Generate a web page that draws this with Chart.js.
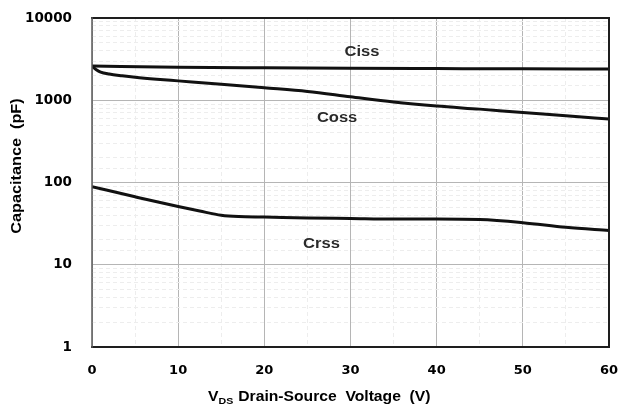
<!DOCTYPE html>
<html>
<head>
<meta charset="utf-8">
<style>
  html, body { margin: 0; padding: 0; background: #ffffff; }
  #wrap { width: 620px; height: 412px; position: relative; }
</style>
<script src="https://cdn.jsdelivr.net/npm/chart.js@4.4.1/dist/chart.umd.min.js"></script>
</head>
<body>
<div id="wrap"><canvas id="cap" width="620" height="412"></canvas></div>
<script>
// Drain-source voltage (V) sample points for each capacitance curve
const vCiss = [0, 10, 20, 30, 40, 50, 60];
const ciss  = [2600, 2520, 2480, 2450, 2430, 2410, 2400];

const vCoss = [0, 0.5, 1, 2, 3.5, 5, 7.5, 10, 15, 20, 25, 30, 35, 40, 45, 50, 55, 60];
const coss  = [2600, 2350, 2200, 2080, 1980, 1900, 1800, 1720, 1570, 1420, 1280, 1100, 950, 850, 780, 710, 650, 590];

const vCrss = [0, 5, 10, 12.5, 15, 17, 20, 25, 30, 35, 40, 45, 50, 55, 60];
const crss  = [89, 67, 51, 45, 40, 38.5, 38, 37, 36.5, 36, 36, 35.5, 32.5, 28.5, 26];

// Axis ticks
const xTicks = [0, 10, 20, 30, 40, 50, 60];
const yTicks = [1, 10, 100, 1000, 10000];

// Curve names and where they are written (x in V, y in pF)
const curveNames = ['Ciss', 'Coss', 'Crss'];
const namePos = [[29.3, 3860], [26.1, 608], [24.5, 17.9]];

const toPts = (xs, ys) => xs.map((x, i) => ({ x: x, y: ys[i] }));

const TICK_FONT = 'DejaVu Sans';
const TEXT_FONT = 'Liberation Sans, Arial, sans-serif';

function stretchedText(ctx, text, x, y, size, sx, align) {
  ctx.save();
  ctx.font = 'bold ' + size + 'px ' + TEXT_FONT;
  ctx.textBaseline = 'middle';
  const w = ctx.measureText(text).width * sx;
  let left = x;
  if (align === 'center') left = x - w / 2;
  ctx.translate(left, y);
  ctx.scale(sx, 1);
  ctx.textAlign = 'left';
  ctx.fillText(text, 0, 0);
  ctx.restore();
  return w;
}

// keep tick labels from pushing the plot area inwards
function noOverflow(s) {
  s.paddingLeft = 0; s.paddingRight = 0; s.paddingTop = 0; s.paddingBottom = 0;
}

const decorations = {
  id: 'decorations',
  afterDatasetsDraw(chart) {
    const { ctx, chartArea: a, scales } = chart;
    // plot frame
    ctx.save();
    ctx.lineCap = 'square';
    ctx.strokeStyle = '#1e1e1e';
    ctx.lineWidth = 2;
    ctx.beginPath();
    ctx.moveTo(a.left, a.top); ctx.lineTo(a.right, a.top);
    ctx.lineTo(a.right, a.bottom); ctx.lineTo(a.left, a.bottom);
    ctx.stroke();
    ctx.strokeStyle = '#5a5a5a';
    ctx.lineWidth = 1.5;
    ctx.beginPath();
    ctx.moveTo(a.left, a.top); ctx.lineTo(a.left, a.bottom);
    ctx.stroke();
    ctx.restore();

    // curve names
    ctx.save();
    ctx.fillStyle = '#2a2a2a';
    curveNames.forEach((n, i) => {
      const px = scales.x.getPixelForValue(namePos[i][0]);
      const py = scales.y.getPixelForValue(namePos[i][1]);
      stretchedText(ctx, n, px, py, 14, 1.18, 'left');
    });
    ctx.restore();

    // axis titles
    ctx.save();
    ctx.fillStyle = '#000';
    // x title with subscript
    const cy = 397;
    let x = 208;
    x += stretchedText(ctx, 'V', x, cy, 14, 1.12, 'left');
    x += stretchedText(ctx, 'DS', x, cy + 4, 9.5, 1.12, 'left');
    x += 5;
    stretchedText(ctx, 'Drain-Source  Voltage  (V)', x, cy, 14, 1.12, 'left');
    // y title, rotated
    ctx.translate(17, 166);
    ctx.rotate(-Math.PI / 2);
    stretchedText(ctx, 'Capacitance  (pF)', 0, 0, 14.5, 1.12, 'center');
    ctx.restore();
  }
};

const lineStyle = {
  borderColor: '#111111',
  borderWidth: 3,
  pointRadius: 0,
  fill: false,
  cubicInterpolationMode: 'monotone'
};

new Chart(document.getElementById('cap'), {
  type: 'line',
  data: {
    datasets: [
      Object.assign({ label: 'Ciss', data: toPts(vCiss, ciss) }, lineStyle),
      Object.assign({ label: 'Coss', data: toPts(vCoss, coss) }, lineStyle),
      Object.assign({ label: 'Crss', data: toPts(vCrss, crss) }, lineStyle)
    ]
  },
  options: {
    responsive: false,
    animation: false,
    events: [],
    layout: { padding: { top: 18, right: 11, left: 0, bottom: 0 } },
    plugins: { legend: { display: false }, tooltip: { enabled: false } },
    scales: {
      // dashed minor grid (every 5 V)
      xMinor: {
        type: 'linear', position: 'bottom', min: 0, max: 60,
        ticks: { display: false, stepSize: 5 },
        grid: {
          drawTicks: false,
          color: (c) => (c.tick && c.tick.value % 10 !== 0) ? '#ededed' : 'rgba(0,0,0,0)'
        },
        border: { display: false, dash: [4, 3] },
        afterFit: (s) => { s.height = 0; noOverflow(s); }
      },
      x: {
        type: 'linear', position: 'bottom', min: 0, max: 60,
        afterBuildTicks: (s) => { s.ticks = xTicks.map(v => ({ value: v })); },
        ticks: {
          color: '#000', padding: 16,
          font: { family: TICK_FONT, weight: 'bold', size: 13 }
        },
        grid: { drawTicks: false, color: '#b5b5b5', lineWidth: 1 },
        border: { display: false },
        afterFit: (s) => { s.height = 65; noOverflow(s); }
      },
      // dashed minor grid (2..9 of each decade)
      yMinor: {
        type: 'logarithmic', position: 'left', min: 1, max: 10000,
        ticks: { display: false },
        grid: {
          drawTicks: false,
          color: (c) => {
            if (!c.tick) return 'rgba(0,0,0,0)';
            const l = Math.log10(c.tick.value);
            return Math.abs(l - Math.round(l)) < 1e-6 ? 'rgba(0,0,0,0)' : '#ededed';
          }
        },
        border: { display: false, dash: [4, 3] },
        afterFit: (s) => { s.width = 0; noOverflow(s); }
      },
      y: {
        type: 'logarithmic', position: 'left', min: 1, max: 10000,
        afterBuildTicks: (s) => { s.ticks = yTicks.map(v => ({ value: v, major: true })); },
        ticks: {
          color: '#000', padding: 20,
          font: { family: TICK_FONT, weight: 'bold', size: 13.5 },
          callback: (v) => String(v)
        },
        grid: { drawTicks: false, color: '#b5b5b5', lineWidth: 1 },
        border: { display: false },
        afterFit: (s) => { s.width = 92; noOverflow(s); }
      }
    }
  },
  plugins: [decorations]
});
</script>
</body>
</html>
